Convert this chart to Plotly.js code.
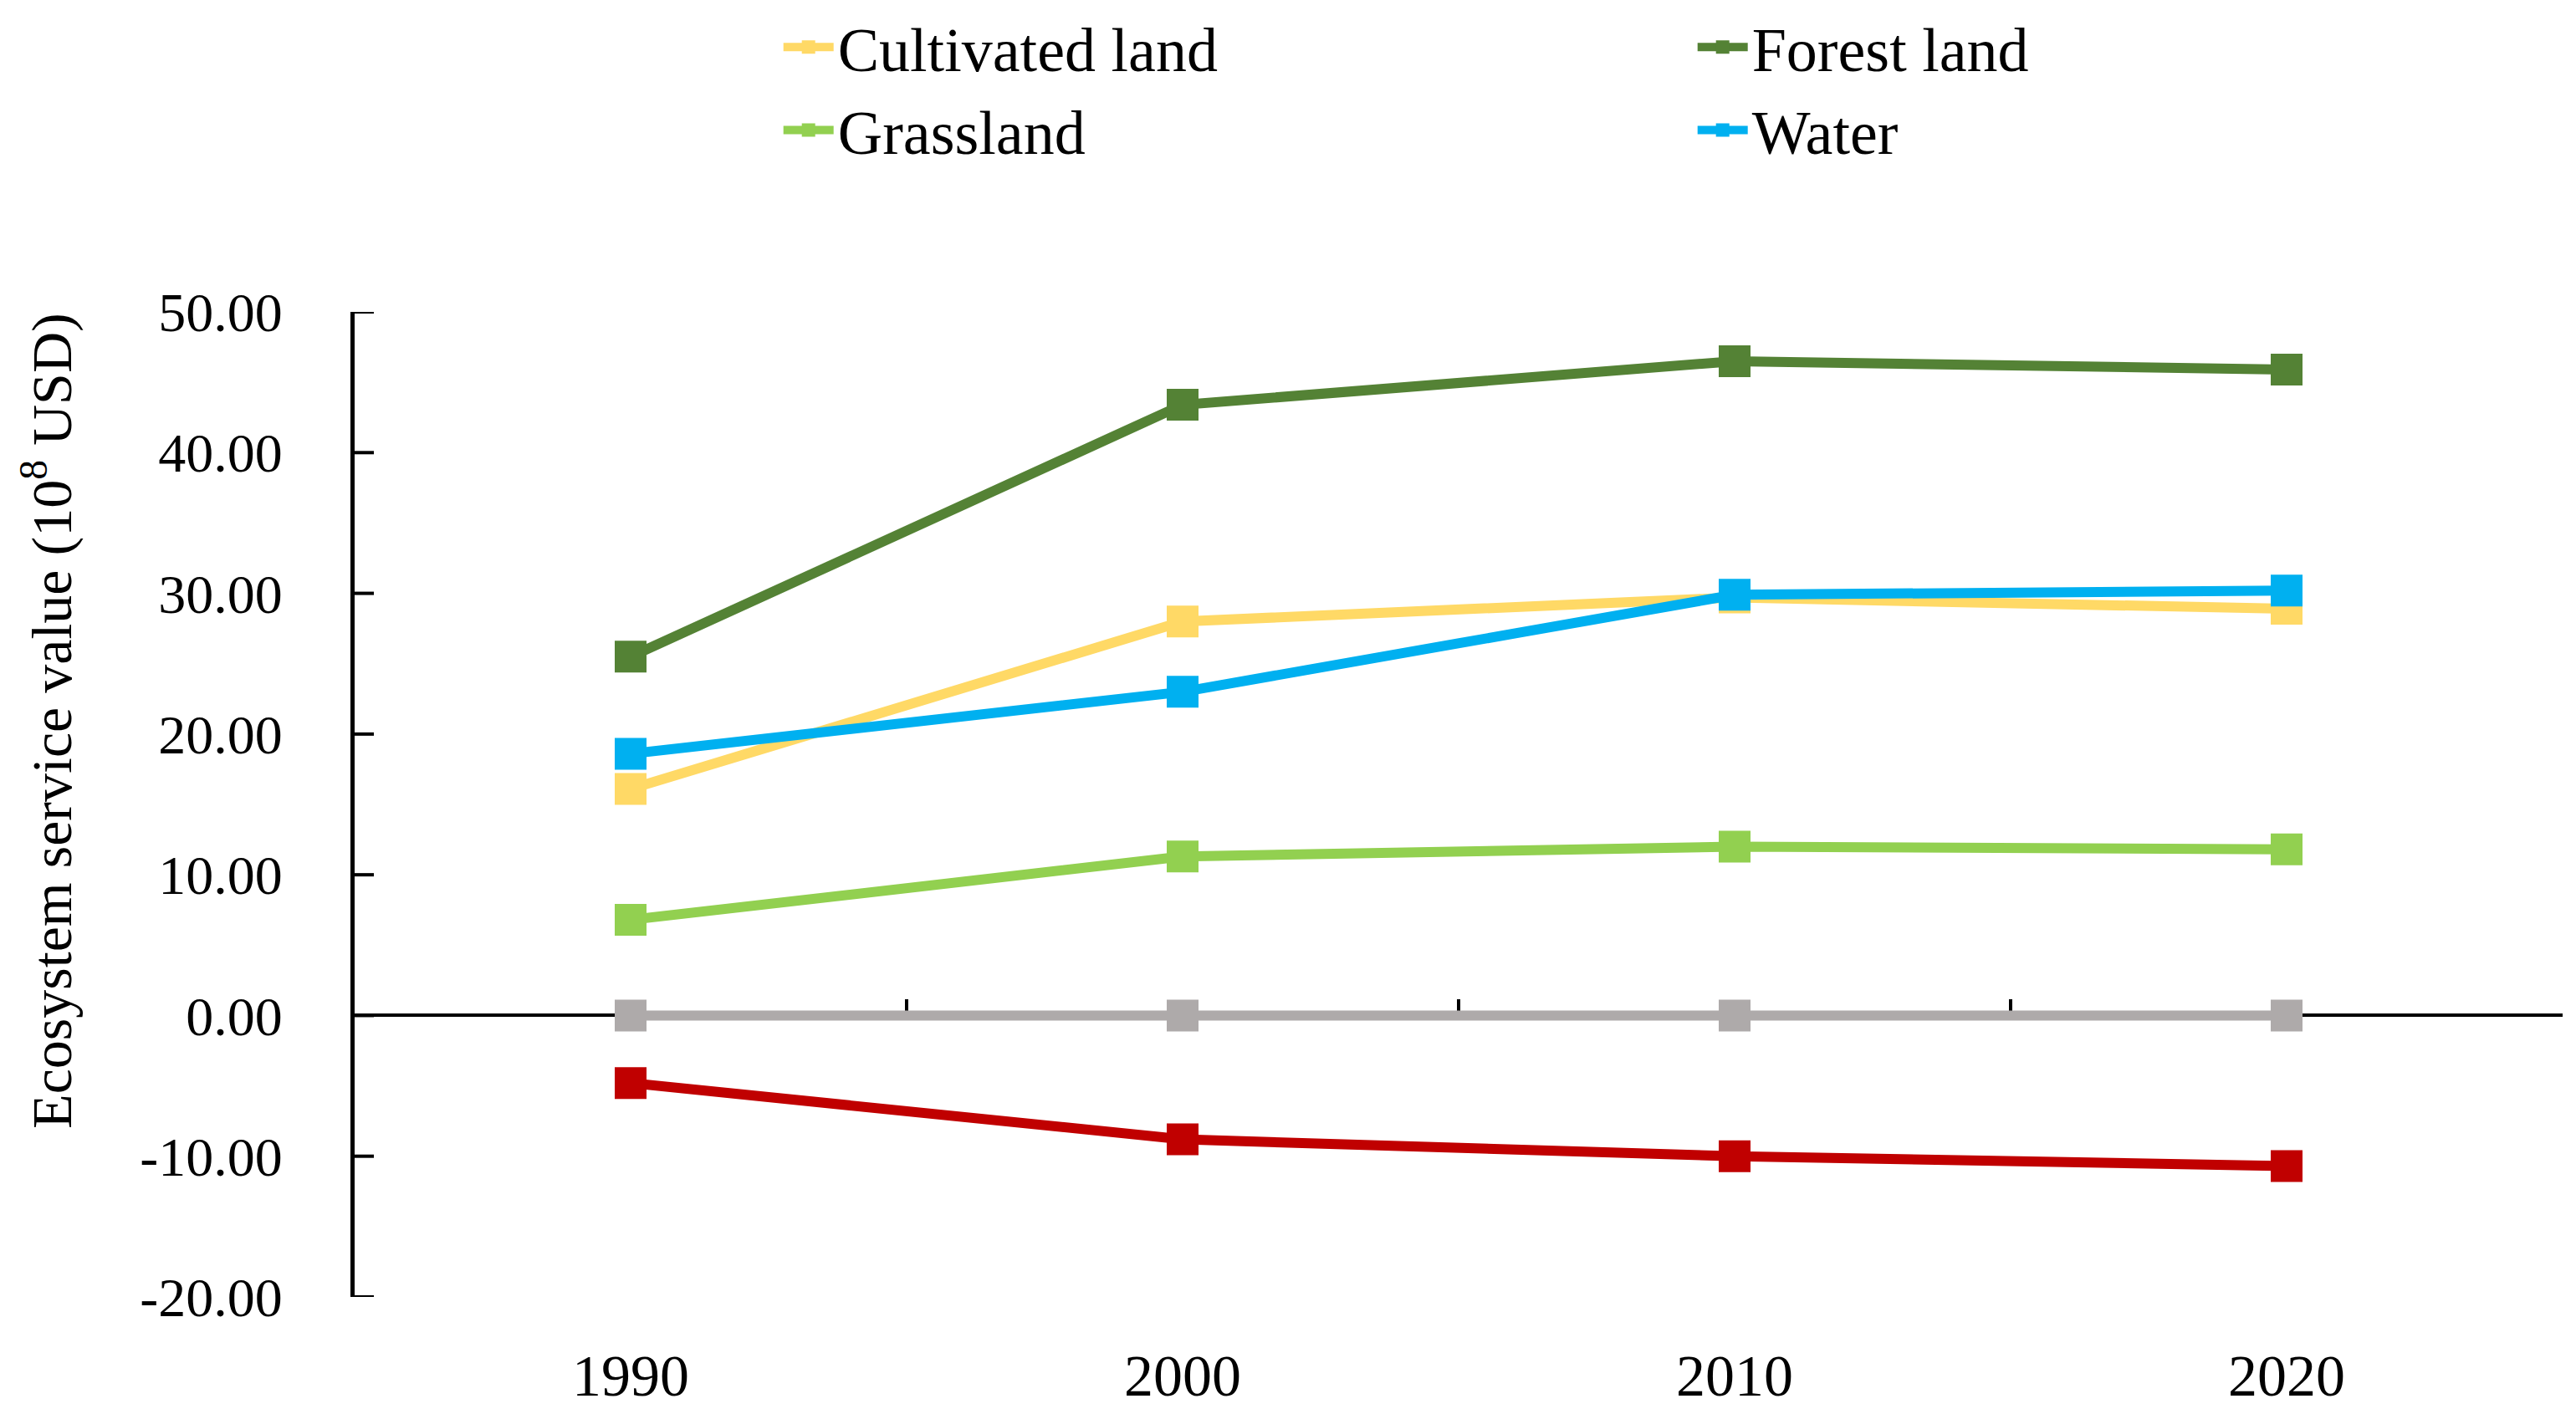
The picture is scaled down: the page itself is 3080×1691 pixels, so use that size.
<!DOCTYPE html>
<html>
<head>
<meta charset="utf-8">
<script src="https://cdn.plot.ly/plotly-3.0.1.min.js"></script>
<style>html,body{margin:0;padding:0;background:#fff;}#chart{width:3080px;height:1691px;}</style>
</head>
<body>
<div id="chart"></div>
<script>
const years = ['1990', '2000', '2010', '2020'];
const cultivated = [16.1, 28.0, 29.7, 28.9];
const forest = [25.5, 43.4, 46.5, 45.9];
const grassland = [6.8, 11.3, 12.0, 11.8];
const water = [18.6, 23.0, 29.9, 30.2];
const unused = [0, 0, 0, 0];
const construction = [-4.8, -8.8, -10.0, -10.7];
const yTickVals = [-20, -10, 0, 10, 20, 30, 40, 50];
const yTickText = ['-20.00', '-10.00', '0.00', '10.00', '20.00', '30.00', '40.00', '50.00'];
const boundaryTicks = [0.5, 1.5, 2.5];

const FONT = 'Liberation Serif, Times New Roman, serif';
const M = {l: 424, r: 16, t: 373, b: 140};
const W = 3080, H = 1691;
const plotW = W - M.l - M.r;
const yearIndex = years.map((_, i) => i);
function series(name, y, color, show, xa) {
  return {
    type: 'scatter', mode: 'lines+markers', name: name,
    x: xa === 'x2' ? yearIndex : years, y: y,
    xaxis: xa, yaxis: 'y',
    line: {color: color, width: 12},
    marker: {symbol: 'square', size: 38, color: color},
    showlegend: show, hoverinfo: 'skip'
  };
}
const data = [
  series('Unused land', unused, '#AEAAAA', false, 'x2'),
  series('Construction land', construction, '#C00000', false, 'x'),
  series('Cultivated land', cultivated, '#FFD966', true, 'x'),
  series('Forest land', forest, '#548235', true, 'x'),
  series('Grassland', grassland, '#92D050', true, 'x'),
  series('Water', water, '#00B0F0', true, 'x')
];
// inward tick marks of the y axis, built from the tick values
const yTickShapes = yTickVals.map(v => ({
  type: 'line', xref: 'paper', yref: 'y', x0: 0, x1: 23 / plotW, y0: v, y1: v,
  line: {color: '#000', width: 4}, layer: 'above'
}));
const layout = {
  width: W, height: H,
  paper_bgcolor: '#ffffff', plot_bgcolor: 'rgba(0,0,0,0)',
  margin: {l: M.l, r: M.r, t: M.t, b: M.b, pad: 0},
  font: {family: FONT, color: '#000000', size: 66},
  showlegend: true,
  legend: {
    orientation: 'h', xref: 'container', yref: 'container',
    x: 0.3025, xanchor: 'left', y: 0.999, yanchor: 'top',
    entrywidth: 1018, entrywidthmode: 'pixels',
    traceorder: 'normal', font: {family: FONT, size: 74, color: '#000'},
    itemwidth: 60, bgcolor: 'rgba(0,0,0,0)'
  },
  xaxis: {
    type: 'category', range: [-0.5, 3.5], showline: false, ticks: '',
    showgrid: false, zeroline: false, ticklabelstandoff: 47,
    tickfont: {family: FONT, size: 70, color: '#000'}
  },
  xaxis2: {
    overlaying: 'x', anchor: 'free', position: 20 / 70, type: 'linear',
    range: [-0.5, 3.5], showline: true, linecolor: '#000', linewidth: 4,
    ticks: 'inside', ticklen: 17, tickwidth: 4, tickcolor: '#000',
    tickmode: 'array', tickvals: boundaryTicks, showticklabels: false, showgrid: false,
    zeroline: false, layer: 'below traces'
  },
  yaxis: {
    range: [-20, 50], tickmode: 'array', tickvals: yTickVals, ticktext: yTickText,
    showline: true, linecolor: '#000', linewidth: 5,
    ticks: 'outside', ticklen: 68, tickwidth: 1, tickcolor: 'rgba(0,0,0,0)',
    showgrid: false, zeroline: false,
    tickfont: {family: FONT, size: 66, color: '#000'}
  },
  shapes: yTickShapes,
  annotations: [{
    text: 'Ecosystem service value (10<sup>8</sup> USD)',
    xref: 'paper', yref: 'paper', x: -0.139, y: 0.585,
    xanchor: 'center', yanchor: 'middle', textangle: -90, showarrow: false,
    font: {family: FONT, size: 68, color: '#000'}
  }]
};
Plotly.newPlot('chart', data, layout, {displayModeBar: false, staticPlot: true});
</script>
</body>
</html>
